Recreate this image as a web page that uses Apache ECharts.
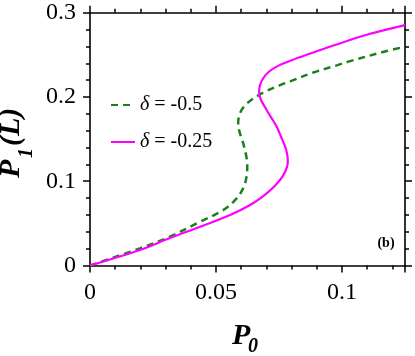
<!DOCTYPE html>
<html>
<head>
<meta charset="utf-8">
<script src="https://cdn.jsdelivr.net/npm/echarts@6/dist/echarts.min.js"></script>
<style>
html,body{margin:0;padding:0;background:#fff;}
#chart{width:415px;height:356px;}
</style>
</head>
<body>
<div id="chart"></div>
<script>
// Series names
const seriesNames = ['δ = -0.5', 'δ = -0.25'];
// δ = -0.5 (green dashed), points ordered along the curve
const greenX = [0, 0.0198, 0.0317, 0.0437, 0.0529, 0.0582, 0.0610, 0.0622, 0.0624, 0.0620, 0.0608, 0.0594, 0.0588, 0.0592, 0.0608, 0.0640, 0.0690, 0.0750, 0.0794, 0.0886, 0.0979, 0.1032, 0.1177, 0.125];
const greenY = [0, 0.0204, 0.0342, 0.052, 0.0658, 0.0797, 0.093, 0.107, 0.118, 0.130, 0.145, 0.158, 0.168, 0.178, 0.1875, 0.1965, 0.2055, 0.2135, 0.2185, 0.2290, 0.2375, 0.2425, 0.2545, 0.2596];
// δ = -0.25 (magenta solid)
const magX = [0, 0.0198, 0.0317, 0.0437, 0.0556, 0.0635, 0.0690, 0.0735, 0.0765, 0.0782, 0.0785, 0.0778, 0.0762, 0.0741, 0.0716, 0.0694, 0.0678, 0.0671, 0.0674, 0.0688, 0.0712, 0.0750, 0.0800, 0.0860, 0.0966, 0.1098, 0.125];
const magY = [0, 0.0184, 0.0326, 0.046, 0.0599, 0.0718, 0.0830, 0.0950, 0.1060, 0.1170, 0.125, 0.138, 0.150, 0.1647, 0.177, 0.188, 0.197, 0.205, 0.2135, 0.2225, 0.2305, 0.2375, 0.2435, 0.2500, 0.2610, 0.2738, 0.2853];
// Axis tick labels
const xTickLabels = ['0', '0.05', '0.1'];
const yTickLabels = ['0', '0.1', '0.2', '0.3'];

const zip = (xs, ys) => xs.map((x, i) => [x, ys[i]]);
const SERIF = '"Liberation Serif", "DejaVu Serif", serif';
const black = '#000';

const chart = echarts.init(document.getElementById('chart'), null, {renderer: 'canvas'});

function xAxisDef(pos, interval, tickLen, showLine, showLabel) {
  return {
    type: 'value', position: pos, min: 0, max: 0.125, interval: interval,
    axisLine: {show: showLine, onZero: false, lineStyle: {color: black, width: 1.6}},
    axisTick: {show: true, length: tickLen, lineStyle: {color: black, width: 1.5}},
    splitLine: {show: false},
    axisLabel: {
      show: showLabel, margin: 15, fontFamily: SERIF, fontSize: 24, color: black,
      formatter: function (v) {
        const k = v * 20;
        if (Math.abs(Math.round(k) - k) < 1e-6) {
          const idx = Math.round(k);
          return xTickLabels[idx] !== undefined ? xTickLabels[idx] : '';
        }
        return '';
      }
    }
  };
}

function yAxisDef(pos, showLabel) {
  return {
    type: 'value', position: pos, min: 0, max: 0.3, interval: 0.1,
    axisLine: {show: true, onZero: false, lineStyle: {color: black, width: 1.6}},
    axisTick: {show: true, length: 7, lineStyle: {color: black, width: 1.5}},
    minorTick: {show: true, splitNumber: 5, length: 4, lineStyle: {color: black, width: 1.5}},
    splitLine: {show: false}, minorSplitLine: {show: false},
    axisLabel: {
      show: showLabel, margin: 14, fontFamily: SERIF, fontSize: 24, color: black,
      formatter: function (v) {
        const idx = Math.round(v * 10);
        return yTickLabels[idx] !== undefined ? yTickLabels[idx] : '';
      }
    }
  };
}

const option = {
  animation: false,
  backgroundColor: '#fff',
  grid: {left: 90, right: 10, top: 12.7, bottom: 90.5, containLabel: false},
  xAxis: [
    xAxisDef('bottom', 0.01, 4, true, true),
    xAxisDef('bottom', 0.05, 7, false, false),
    xAxisDef('top', 0.01, 4, true, false),
    xAxisDef('top', 0.05, 7, false, false)
  ],
  yAxis: [yAxisDef('left', true), yAxisDef('right', false)],
  legend: {
    orient: 'vertical', left: 110, top: 95, padding: 0,
    itemWidth: 24, itemHeight: 14, itemGap: 17,
    data: seriesNames,
    itemStyle: {opacity: 0, borderWidth: 0},
    textStyle: {
      fontFamily: SERIF, fontSize: 20, color: black, lineHeight: 20,
      rich: {it: {fontFamily: SERIF, fontSize: 20, fontStyle: 'italic', color: black}}
    },
    formatter: function (name) {
      return '{it|δ}' + name.slice(1);
    }
  },
  series: [
    {
      name: seriesNames[0], type: 'line', xAxisIndex: 0, yAxisIndex: 0,
      data: zip(greenX, greenY), showSymbol: false, symbol: 'none', smooth: 0.35,
      lineStyle: {color: '#1a801a', width: 2.5, type: [7, 5]},
      itemStyle: {color: '#1a801a'}
    },
    {
      name: seriesNames[1], type: 'line', xAxisIndex: 0, yAxisIndex: 0,
      data: zip(magX, magY), showSymbol: false, symbol: 'none', smooth: 0.35,
      lineStyle: {color: '#ff00ff', width: 2.2, type: 'solid'},
      itemStyle: {color: '#ff00ff'}
    }
  ],
  graphic: [
    {type: 'text', x: 232, y: 336, silent: true,
      style: {text: 'P', font: 'italic bold 30px ' + SERIF, fill: black, verticalAlign: 'middle', align: 'left'}},
    {type: 'text', x: 248, y: 346.5, silent: true,
      style: {text: '0', font: 'italic bold 20px ' + SERIF, fill: black, verticalAlign: 'middle', align: 'left'}},
    {
      type: 'group', x: 21.7, y: 178, rotation: Math.PI / 2, silent: true,
      children: [
        {type: 'text', x: 0, y: -10, style: {text: 'P', font: 'italic bold 30px ' + SERIF, fill: black, verticalAlign: 'middle', align: 'left'}},
        {type: 'text', x: 20, y: 5, style: {text: '1', font: 'italic bold 20px ' + SERIF, fill: black, verticalAlign: 'middle', align: 'left'}},
        {type: 'text', x: 32, y: -10, style: {text: '(L)', font: 'italic bold 30px ' + SERIF, fill: black, verticalAlign: 'middle', align: 'left'}}
      ]
    },
    {
      type: 'text', x: 386, y: 243, silent: true,
      style: {text: '(b)', font: 'bold 14px ' + SERIF, fill: black, verticalAlign: 'middle', align: 'center'}
    }
  ]
};
chart.setOption(option);
</script>
</body>
</html>
